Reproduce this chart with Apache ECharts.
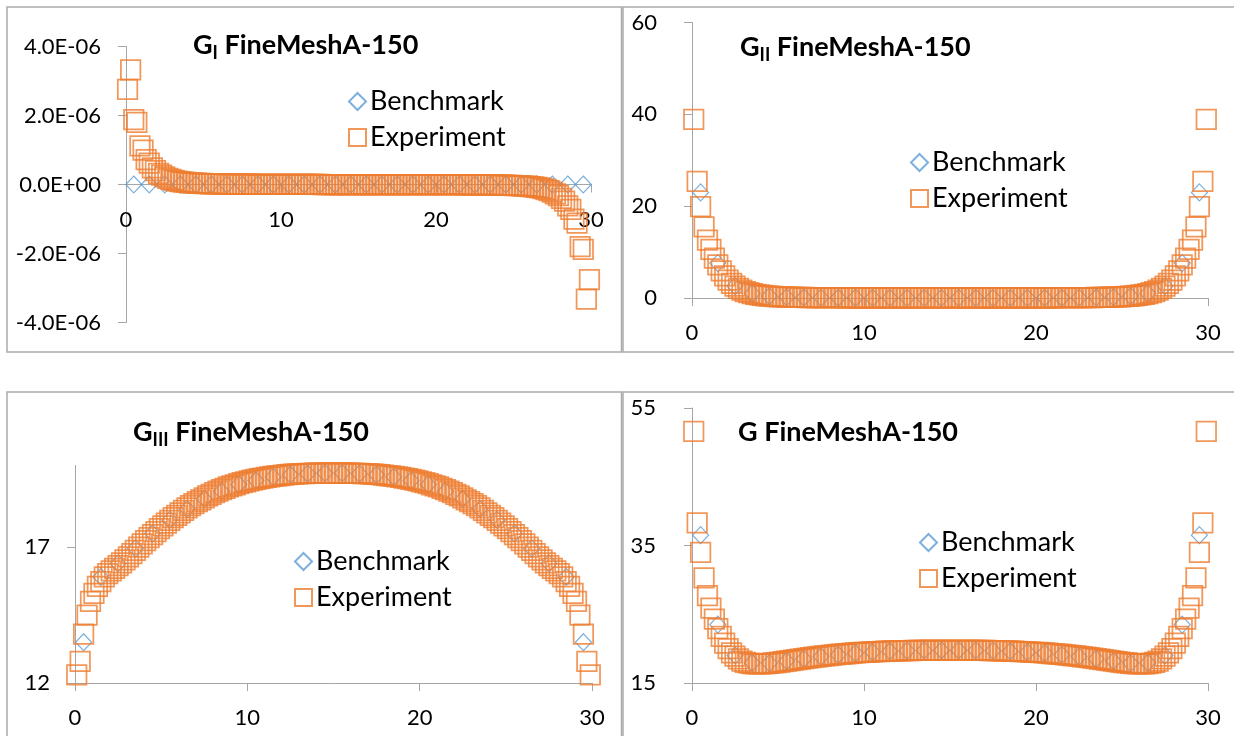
<!DOCTYPE html>
<html><head><meta charset="utf-8">
<script src="https://cdn.jsdelivr.net/npm/echarts@6/dist/echarts.min.js"></script>
<style>html,body{margin:0;padding:0;background:#fff}#c{width:1234px;height:736px}</style>
</head><body><div id="c"></div>
<script>
// ---------- x positions ----------
const xExp = [
 0.1,0.3,0.5,0.7,0.9,1.1,1.3,1.5,1.7,1.9,
 2.1,2.3,2.5,2.7,2.9,3.1,3.3,3.5,3.7,3.9,
 4.1,4.3,4.5,4.7,4.9,5.1,5.3,5.5,5.7,5.9,
 6.1,6.3,6.5,6.7,6.9,7.1,7.3,7.5,7.7,7.9,
 8.1,8.3,8.5,8.7,8.9,9.1,9.3,9.5,9.7,9.9,
 10.1,10.3,10.5,10.7,10.9,11.1,11.3,11.5,11.7,11.9,
 12.1,12.3,12.5,12.7,12.9,13.1,13.3,13.5,13.7,13.9,
 14.1,14.3,14.5,14.7,14.9,15.1,15.3,15.5,15.7,15.9,
 16.1,16.3,16.5,16.7,16.9,17.1,17.3,17.5,17.7,17.9,
 18.1,18.3,18.5,18.7,18.9,19.1,19.3,19.5,19.7,19.9,
 20.1,20.3,20.5,20.7,20.9,21.1,21.3,21.5,21.7,21.9,
 22.1,22.3,22.5,22.7,22.9,23.1,23.3,23.5,23.7,23.9,
 24.1,24.3,24.5,24.7,24.9,25.1,25.3,25.5,25.7,25.9,
 26.1,26.3,26.5,26.7,26.9,27.1,27.3,27.5,27.7,27.9,
 28.1,28.3,28.5,28.7,28.9,29.1,29.3,29.5,29.7,29.9];
const xBench = [0.5,1.5,2.5,3.5,4.5,5.5,6.5,7.5,8.5,9.5,10.5,11.5,12.5,13.5,14.5,
 15.5,16.5,17.5,18.5,19.5,20.5,21.5,22.5,23.5,24.5,25.5,26.5,27.5,28.5,29.5];

// ---------- G_I ----------
const giBench = [0,0,0,0,0,0,0,0,0,0,0,0,0,0,0,0,0,0,0,0,0,0,0,0,0,0,0,0,0,0];
const giExp = [
 2.76e-6,3.32e-6,1.88e-6,1.80e-6,1.12e-6,1.00e-6,0.72e-6,0.62e-6,0.48e-6,0.40e-6,
 0.32e-6,0.27e-6,0.22e-6,0.18e-6,0.15e-6,0.12e-6,0.10e-6,0.085e-6,0.07e-6,0.06e-6,
 0.05e-6,0.045e-6,0.04e-6,0.035e-6,0.03e-6,0.027e-6,0.024e-6,0.021e-6,0.019e-6,0.017e-6,
 0.015e-6,0.014e-6,0.013e-6,0.012e-6,0.011e-6,0.010e-6,0.010e-6,0.009e-6,0.009e-6,0.008e-6,
 0.008e-6,0.007e-6,0.007e-6,0.006e-6,0.006e-6,0.005e-6,0.005e-6,0.005e-6,0.004e-6,0.004e-6,
 0.004e-6,0.003e-6,0.003e-6,0.003e-6,0.002e-6,0.002e-6,0.002e-6,0.002e-6,0.001e-6,0.001e-6,
 0.001e-6,0.001e-6,0.001e-6,0,0,0,0,0,0,0,
 0,0,0,0,0,0,0,0,0,0,
 0,0,0,0,0,0,0,-0.001e-6,-0.001e-6,-0.001e-6,
 -0.001e-6,-0.001e-6,-0.002e-6,-0.002e-6,-0.002e-6,-0.002e-6,-0.003e-6,-0.003e-6,-0.003e-6,-0.004e-6,
 -0.004e-6,-0.004e-6,-0.005e-6,-0.005e-6,-0.005e-6,-0.006e-6,-0.006e-6,-0.007e-6,-0.007e-6,-0.008e-6,
 -0.008e-6,-0.009e-6,-0.009e-6,-0.010e-6,-0.010e-6,-0.011e-6,-0.012e-6,-0.013e-6,-0.014e-6,-0.015e-6,
 -0.017e-6,-0.019e-6,-0.021e-6,-0.024e-6,-0.027e-6,-0.03e-6,-0.035e-6,-0.04e-6,-0.045e-6,-0.05e-6,
 -0.06e-6,-0.07e-6,-0.085e-6,-0.10e-6,-0.12e-6,-0.15e-6,-0.18e-6,-0.22e-6,-0.27e-6,-0.32e-6,
 -0.40e-6,-0.48e-6,-0.62e-6,-0.72e-6,-1.00e-6,-1.12e-6,-1.80e-6,-1.88e-6,-3.32e-6,-2.76e-6];

// ---------- G_II ----------
const giiBench = [23.0,7.6,2.6,1.0,0.42,0.2,0.11,0.07,0.05,0.045,0.04,0.04,0.038,0.037,0.037,
 0.037,0.037,0.038,0.04,0.04,0.045,0.05,0.07,0.11,0.2,0.42,1.0,2.6,7.6,23.0];
const giiExp = [
 38.9,25.4,19.9,15.5,12.6,10.6,8.7,7.2,5.9,4.8,
 3.9,3.2,2.6,2.1,1.7,1.4,1.15,0.95,0.8,0.67,
 0.56,0.47,0.4,0.34,0.29,0.25,0.22,0.19,0.17,0.15,
 0.13,0.12,0.11,0.1,0.09,0.085,0.08,0.075,0.07,0.067,
 0.064,0.061,0.058,0.056,0.054,0.052,0.05,0.049,0.048,0.047,
 0.046,0.045,0.044,0.043,0.042,0.042,0.041,0.041,0.04,0.04,
 0.04,0.039,0.039,0.039,0.038,0.038,0.038,0.038,0.038,0.037,
 0.037,0.037,0.037,0.037,0.037,0.037,0.037,0.037,0.037,0.037,
 0.037,0.038,0.038,0.038,0.038,0.038,0.039,0.039,0.039,0.04,
 0.04,0.04,0.041,0.041,0.042,0.042,0.043,0.044,0.045,0.046,
 0.047,0.048,0.049,0.05,0.052,0.054,0.056,0.058,0.061,0.064,
 0.067,0.07,0.075,0.08,0.085,0.09,0.1,0.11,0.12,0.13,
 0.15,0.17,0.19,0.22,0.25,0.29,0.34,0.4,0.47,0.56,
 0.67,0.8,0.95,1.15,1.4,1.7,2.1,2.6,3.2,3.9,
 4.8,5.9,7.2,8.7,10.6,12.6,15.5,19.9,25.4,38.9];

// ---------- G_III ----------
const giiiBench = [13.5,15.9,16.4,16.95,17.5,18.0,18.4,18.77,19.05,19.3,19.45,19.58,19.66,19.7,19.72,
 19.72,19.7,19.66,19.58,19.45,19.3,19.05,18.77,18.4,18.0,17.5,16.95,16.4,15.9,13.5];
const giiiExp = [
 12.3,12.8,13.8,14.5,15.0,15.3,15.55,15.73,15.9,16.02,
 16.12,16.22,16.32,16.42,16.53,16.64,16.76,16.88,17.0,17.12,
 17.24,17.35,17.46,17.57,17.68,17.78,17.88,17.98,18.08,18.17,
 18.26,18.35,18.44,18.52,18.6,18.67,18.74,18.81,18.88,18.94,
 19.0,19.06,19.11,19.16,19.21,19.25,19.29,19.33,19.37,19.4,
 19.43,19.46,19.49,19.52,19.54,19.56,19.58,19.6,19.62,19.63,
 19.65,19.66,19.67,19.68,19.69,19.7,19.7,19.71,19.71,19.72,
 19.72,19.72,19.72,19.72,19.72,19.72,19.72,19.72,19.72,19.72,
 19.72,19.71,19.71,19.7,19.7,19.69,19.68,19.67,19.66,19.65,
 19.63,19.62,19.6,19.58,19.56,19.54,19.52,19.49,19.46,19.43,
 19.4,19.37,19.33,19.29,19.25,19.21,19.16,19.11,19.06,19.0,
 18.94,18.88,18.81,18.74,18.67,18.6,18.52,18.44,18.35,18.26,
 18.17,18.08,17.98,17.88,17.78,17.68,17.57,17.46,17.35,17.24,
 17.12,17.0,16.88,16.76,16.64,16.53,16.42,16.32,16.22,16.12,
 16.02,15.9,15.73,15.55,15.3,15.0,14.5,13.8,12.8,12.3];

// ---------- G ----------
const gBench = [36.5,23.5,19.0,17.95,17.9,18.2,18.5,18.84,19.1,19.35,19.49,19.62,19.7,19.74,19.76,
 19.76,19.74,19.7,19.62,19.49,19.35,19.1,18.84,18.5,18.2,17.9,17.95,19.0,23.5,36.5];
const gExp = [
 51.6,38.3,34.0,30.3,27.7,25.9,24.3,22.9,21.8,20.8,
 20.0,19.4,18.9,18.5,18.2,18.0,17.9,17.83,17.8,17.79,
 17.8,17.82,17.86,17.91,17.97,18.03,18.1,18.17,18.25,18.32,
 18.39,18.47,18.55,18.62,18.69,18.75,18.81,18.87,18.93,18.99,
 19.05,19.1,19.15,19.2,19.25,19.29,19.33,19.37,19.41,19.44,
 19.47,19.5,19.53,19.56,19.58,19.6,19.62,19.64,19.66,19.67,
 19.69,19.7,19.71,19.72,19.73,19.74,19.74,19.75,19.75,19.76,
 19.76,19.76,19.76,19.76,19.76,19.76,19.76,19.76,19.76,19.76,
 19.76,19.75,19.75,19.74,19.74,19.73,19.72,19.71,19.7,19.69,
 19.67,19.66,19.64,19.62,19.6,19.58,19.56,19.53,19.5,19.47,
 19.44,19.41,19.37,19.33,19.29,19.25,19.2,19.15,19.1,19.05,
 18.99,18.93,18.87,18.81,18.75,18.69,18.62,18.55,18.47,18.39,
 18.32,18.25,18.17,18.1,18.03,17.97,17.91,17.86,17.82,17.8,
 17.79,17.8,17.83,17.9,18.0,18.2,18.5,18.9,19.4,20.0,
 20.8,21.8,22.9,24.3,25.9,27.7,30.3,34.0,38.3,51.6];

// ---------- labels ----------
const titleMain = 'G';
const titleSubs = ['I', 'II', 'III', ''];
const titleRest = ' FineMeshA-150';
const seriesNames = ['Benchmark', 'Experiment'];

// ---------- styling ----------
const FONT = 'Lato';
const AXC = '#A6A6A6';
const ORANGE = '#ED7D31', BLUE = '#5B9BD5';

function sci(v) {
  if (Math.abs(v) < 1e-12) return '0.0E+00';
  const e = Math.floor(Math.log10(Math.abs(v)) + 1e-9);
  const m = v / Math.pow(10, e);
  return m.toFixed(1) + 'E' + (e < 0 ? '-' : '+') + String(Math.abs(e)).padStart(2, '0');
}

const panels = [
  { bench: giBench, exp: giExp, grid: {left:126, top:46.5, width:465, height:276},
    y: {min:-4e-6, max:4e-6, interval:2e-6, fmt: sci, margin: 25}, xOffset: -138,
    title: {left:193, top:28}, legend: {left:348, top:88} },
  { bench: giiBench, exp: giiExp, grid: {left:692, top:22.5, width:516, height:275.5},
    y: {min:0, max:60, interval:20, margin: 35}, xOffset: 0,
    title: {left:740, top:30}, legend: {left:910, top:149} },
  { bench: giiiBench, exp: giiiExp, grid: {left:75, top:465.5, width:517, height:217.5},
    y: {min:12, max:20, interval:5, custom:[12,17], margin: 25}, xOffset: 0,
    title: {left:133, top:415}, legend: {left:294, top:548} },
  { bench: gBench, exp: gExp, grid: {left:692, top:408, width:516, height:275},
    y: {min:15, max:55, interval:20, margin: 36}, xOffset: 0,
    title: {left:738, top:415}, legend: {left:919, top:529} }
];

const grids = [], xAxes = [], yAxes = [], series = [], titles = [], legends = [];
panels.forEach((p, i) => {
  grids.push(Object.assign({}, p.grid));
  xAxes.push({
    type: 'value', gridIndex: i, min: 0, max: 30, interval: 10, position: 'bottom', offset: p.xOffset,
    axisLine: { show: true, onZero: false, lineStyle: { color: AXC, width: 1 } },
    axisTick: { show: true, length: 8, lineStyle: { color: AXC, width: 1 } },
    splitLine: { show: false },
    axisLabel: { color: '#000', fontFamily: FONT, fontSize: 22, margin: 24 }
  });
  const ya = {
    type: 'value', gridIndex: i, min: p.y.min, max: p.y.max, interval: p.y.interval,
    axisLine: { show: true, lineStyle: { color: AXC, width: 1 } },
    axisTick: { show: true, length: 8, lineStyle: { color: AXC, width: 1 } },
    splitLine: { show: false },
    axisLabel: { color: '#000', fontFamily: FONT, fontSize: 22, margin: p.y.margin }
  };
  if (p.y.fmt) ya.axisLabel.formatter = p.y.fmt;
  if (p.y.custom) { ya.axisLabel.customValues = p.y.custom; ya.axisTick.customValues = p.y.custom; }
  yAxes.push(ya);
  series.push({
    name: seriesNames[0], type: 'scatter', xAxisIndex: i, yAxisIndex: i, clip: false,
    symbol: 'diamond', symbolSize: [16, 17], silent: true,
    itemStyle: { color: 'rgba(0,0,0,0)', borderColor: BLUE, borderWidth: 1.2 },
    data: xBench.map((x, k) => [x, p.bench[k]])
  });
  series.push({
    name: seriesNames[1], type: 'scatter', xAxisIndex: i, yAxisIndex: i, clip: false,
    symbol: 'rect', symbolSize: 19.5, silent: true,
    itemStyle: { color: 'rgba(0,0,0,0)', borderColor: ORANGE, borderWidth: 1.75 },
    data: xExp.map((x, k) => [x, p.exp[k]])
  });
  const sub = titleSubs[i];
  titles.push({
    text: '{g|' + titleMain + '}' + (sub ? '{s|' + sub + '}' : '') + '{g|' + titleRest + '}',
    left: p.title.left, top: p.title.top, padding: 0,
    textStyle: {
      rich: {
        g: { fontFamily: FONT, fontWeight: 'bold', fontSize: 27, color: '#000', lineHeight: 34 },
        s: { fontFamily: FONT, fontWeight: 'bold', fontSize: 18, color: '#000', verticalAlign: 'bottom' }
      }
    }
  });
  legends.push({
    orient: 'vertical', left: p.legend.left, top: p.legend.top, padding: 0,
    itemGap: 9, itemWidth: 17, itemHeight: 17, selectedMode: false,
    textStyle: { fontFamily: FONT, fontSize: 27, color: '#000', padding: [0, 0, 0, -1] },
    data: [{ name: seriesNames[0], icon: 'diamond' }, { name: seriesNames[1], icon: 'rect' }]
  });
});

const border = { fill: 'none', stroke: '#ABABAB', lineWidth: 1.5 };
const chart = echarts.init(document.getElementById('c'), null, { renderer: 'canvas' });
chart.setOption({
  animation: false,
  backgroundColor: '#fff',
  graphic: [
    { type: 'rect', shape: { x: 7, y: 7, width: 614.5, height: 345 }, style: border, silent: true },
    { type: 'rect', shape: { x: 623, y: 7, width: 640, height: 345 }, style: border, silent: true },
    { type: 'rect', shape: { x: 7, y: 392, width: 614.5, height: 380 }, style: border, silent: true },
    { type: 'rect', shape: { x: 623, y: 392, width: 640, height: 380 }, style: border, silent: true }
  ],
  title: titles,
  legend: legends,
  grid: grids,
  xAxis: xAxes,
  yAxis: yAxes,
  series: series
});
</script>
</body></html>
